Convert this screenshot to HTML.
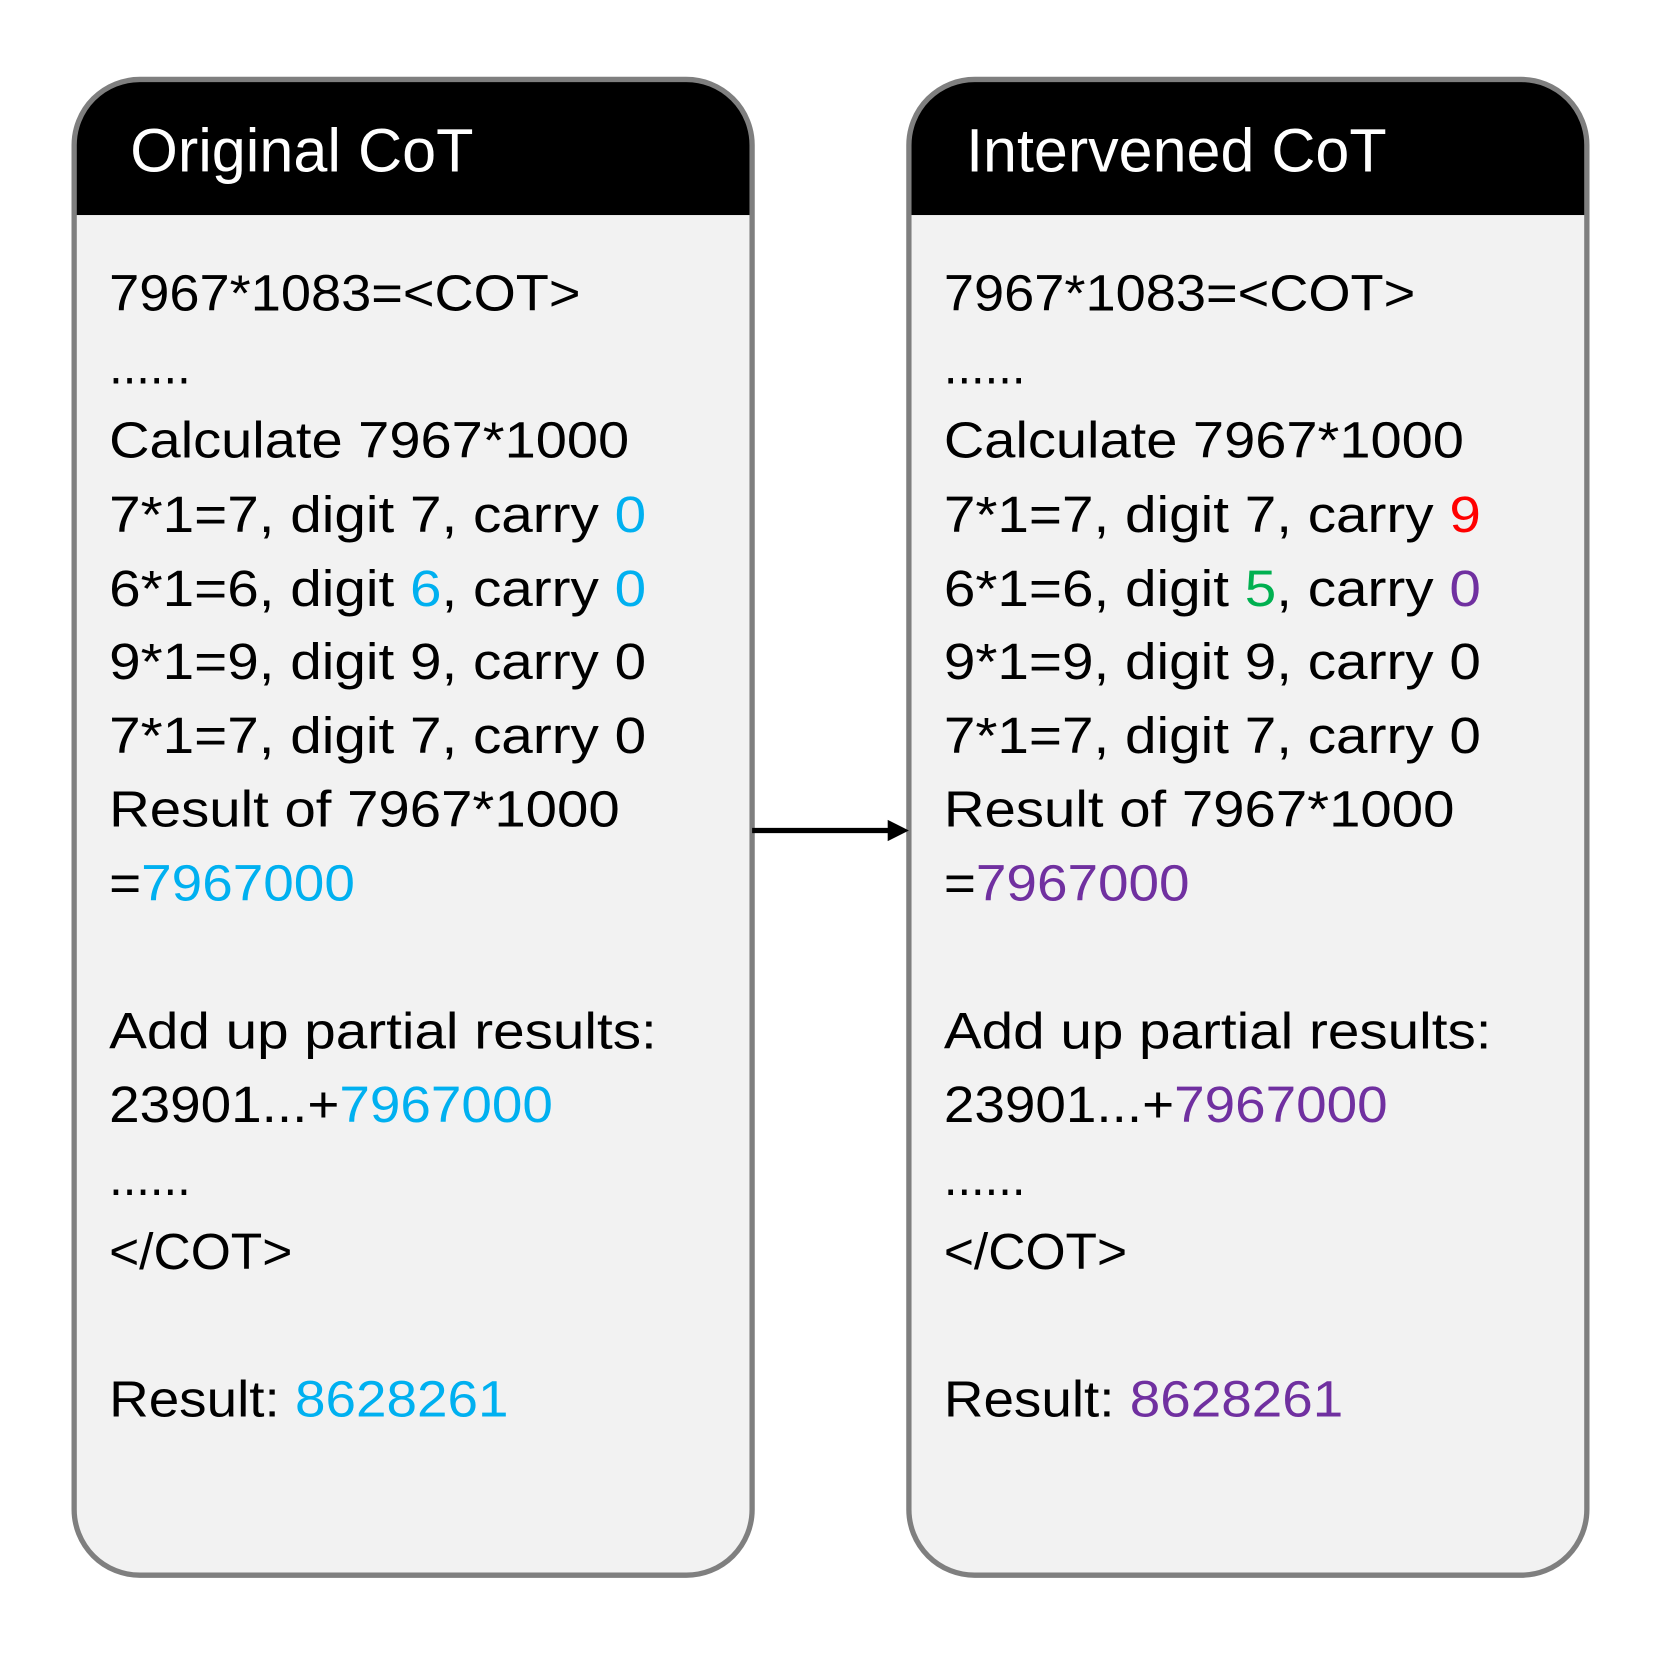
<!DOCTYPE html>
<html><head><meta charset="utf-8"><style>
html,body{margin:0;padding:0;background:#fff;}
svg{display:block;}
</style></head><body>
<svg width="1661" height="1661" viewBox="0 0 1568 1568" xmlns="http://www.w3.org/2000/svg">
<defs>
<clipPath id="c1"><rect x="70" y="75" width="640" height="1412" rx="62"/></clipPath>
<clipPath id="c2"><rect x="858" y="75" width="640" height="1412" rx="62"/></clipPath>
</defs>
<g>
<rect x="70" y="75" width="640" height="1412" rx="62" fill="#f2f2f2"/>
<rect x="70" y="75" width="640" height="128" fill="#000" clip-path="url(#c1)"/>
<rect x="70" y="75" width="640" height="1412" rx="62" fill="none" stroke="#7f7f7f" stroke-width="5"/>
<rect x="858" y="75" width="640" height="1412" rx="62" fill="#f2f2f2"/>
<rect x="858" y="75" width="640" height="128" fill="#000" clip-path="url(#c2)"/>
<rect x="858" y="75" width="640" height="1412" rx="62" fill="none" stroke="#7f7f7f" stroke-width="5"/>
<line x1="710" y1="784" x2="842" y2="784" stroke="#000" stroke-width="5"/>
<polygon points="858,784 838,774 838,794" fill="#000"/>
</g>
<g font-family="Liberation Sans, Arial, sans-serif" font-size="58" fill="#fff">
<text x="123" y="162" textLength="324" lengthAdjust="spacingAndGlyphs">Original CoT</text>
<text x="912" y="162" textLength="397" lengthAdjust="spacingAndGlyphs">Intervened CoT</text>
</g>
<g font-family="Liberation Sans, Arial, sans-serif" font-size="48" fill="#000">
<text x="103" y="293" textLength="445" lengthAdjust="spacingAndGlyphs">7967*1083=&lt;COT&gt;</text>
<text x="103" y="362" textLength="77" lengthAdjust="spacingAndGlyphs">......</text>
<text x="103" y="432" textLength="491" lengthAdjust="spacingAndGlyphs">Calculate 7967*1000</text>
<text x="103" y="502" textLength="507" lengthAdjust="spacingAndGlyphs">7*1=7, digit 7, carry <tspan fill="#00b0f0">0</tspan></text>
<text x="103" y="572" textLength="507" lengthAdjust="spacingAndGlyphs">6*1=6, digit <tspan fill="#00b0f0">6</tspan>, carry <tspan fill="#00b0f0">0</tspan></text>
<text x="103" y="641" textLength="507" lengthAdjust="spacingAndGlyphs">9*1=9, digit 9, carry 0</text>
<text x="103" y="711" textLength="507" lengthAdjust="spacingAndGlyphs">7*1=7, digit 7, carry 0</text>
<text x="103" y="780" textLength="482" lengthAdjust="spacingAndGlyphs">Result of 7967*1000</text>
<text x="103" y="850" textLength="232" lengthAdjust="spacingAndGlyphs">=<tspan fill="#00b0f0">7967000</tspan></text>
<text x="103" y="990" textLength="517" lengthAdjust="spacingAndGlyphs">Add up partial results:</text>
<text x="103" y="1059" textLength="419" lengthAdjust="spacingAndGlyphs">23901...+<tspan fill="#00b0f0">7967000</tspan></text>
<text x="103" y="1128" textLength="77" lengthAdjust="spacingAndGlyphs">......</text>
<text x="103" y="1198" textLength="173" lengthAdjust="spacingAndGlyphs">&lt;/COT&gt;</text>
<text x="103" y="1337" textLength="377" lengthAdjust="spacingAndGlyphs">Result: <tspan fill="#00b0f0">8628261</tspan></text>

<text x="891" y="293" textLength="445" lengthAdjust="spacingAndGlyphs">7967*1083=&lt;COT&gt;</text>
<text x="891" y="362" textLength="77" lengthAdjust="spacingAndGlyphs">......</text>
<text x="891" y="432" textLength="491" lengthAdjust="spacingAndGlyphs">Calculate 7967*1000</text>
<text x="891" y="502" textLength="507" lengthAdjust="spacingAndGlyphs">7*1=7, digit 7, carry <tspan fill="#ff0000">9</tspan></text>
<text x="891" y="572" textLength="507" lengthAdjust="spacingAndGlyphs">6*1=6, digit <tspan fill="#00b050">5</tspan>, carry <tspan fill="#7030a0">0</tspan></text>
<text x="891" y="641" textLength="507" lengthAdjust="spacingAndGlyphs">9*1=9, digit 9, carry 0</text>
<text x="891" y="711" textLength="507" lengthAdjust="spacingAndGlyphs">7*1=7, digit 7, carry 0</text>
<text x="891" y="780" textLength="482" lengthAdjust="spacingAndGlyphs">Result of 7967*1000</text>
<text x="891" y="850" textLength="232" lengthAdjust="spacingAndGlyphs">=<tspan fill="#7030a0">7967000</tspan></text>
<text x="891" y="990" textLength="517" lengthAdjust="spacingAndGlyphs">Add up partial results:</text>
<text x="891" y="1059" textLength="419" lengthAdjust="spacingAndGlyphs">23901...+<tspan fill="#7030a0">7967000</tspan></text>
<text x="891" y="1128" textLength="77" lengthAdjust="spacingAndGlyphs">......</text>
<text x="891" y="1198" textLength="173" lengthAdjust="spacingAndGlyphs">&lt;/COT&gt;</text>
<text x="891" y="1337" textLength="377" lengthAdjust="spacingAndGlyphs">Result: <tspan fill="#7030a0">8628261</tspan></text>
</g>
</svg>
</body></html>
